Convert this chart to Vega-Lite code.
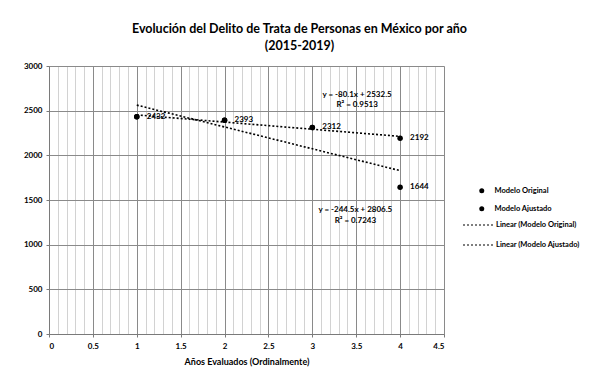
{
  "$schema": "https://vega.github.io/schema/vega-lite/v6.json",
  "width": 395,
  "height": 268,
  "autosize": {"type": "none"},
  "padding": {"left": 49, "top": 66, "right": 151, "bottom": 49},
  "background": "white",
  "config": {
    "font": "Lato",
    "view": {"stroke": null},
    "axis": {
      "labelFont": "Lato",
      "labelFontWeight": "bold",
      "labelFontSize": 8,
      "labelColor": "black",
      "titleFont": "Lato",
      "titleFontWeight": "bold",
      "titleFontSize": 9,
      "titleColor": "black",
      "domainColor": "#7a7a7a",
      "tickColor": "#7a7a7a"
    },
    "legend": {
      "labelFont": "Lato",
      "labelFontWeight": "bold",
      "labelFontSize": 7.5,
      "labelColor": "black",
      "padding": 0,
      "title": null
    }
  },
  "title": {
    "text": ["Evolución del Delito de Trata de Personas en México por año", "(2015-2019)"],
    "font": "Lato",
    "fontSize": 12.5,
    "fontWeight": "bold",
    "color": "black",
    "anchor": "middle",
    "frame": "group",
    "dx": 53,
    "offset": 10,
    "lineHeight": 17
  },
  "data": {
    "values": [
      {"serie": "Modelo Original", "tendencia": "Linear (Modelo Original)", "anio": 1, "delitos": 2432},
      {"serie": "Modelo Original", "tendencia": "Linear (Modelo Original)", "anio": 2, "delitos": 2393},
      {"serie": "Modelo Original", "tendencia": "Linear (Modelo Original)", "anio": 3, "delitos": 2312},
      {"serie": "Modelo Original", "tendencia": "Linear (Modelo Original)", "anio": 4, "delitos": 1644},
      {"serie": "Modelo Ajustado", "tendencia": "Linear (Modelo Ajustado)", "anio": 1, "delitos": 2432},
      {"serie": "Modelo Ajustado", "tendencia": "Linear (Modelo Ajustado)", "anio": 2, "delitos": 2393},
      {"serie": "Modelo Ajustado", "tendencia": "Linear (Modelo Ajustado)", "anio": 3, "delitos": 2312},
      {"serie": "Modelo Ajustado", "tendencia": "Linear (Modelo Ajustado)", "anio": 4, "delitos": 2192}
    ]
  },
  "resolve": {"axis": {"x": "independent"}},
  "layer": [
    {
      "transform": [
        {"regression": "delitos", "on": "anio", "groupby": ["tendencia"], "extent": [1, 4]}
      ],
      "mark": {"type": "line", "color": "black", "strokeWidth": 1.6},
      "encoding": {
        "x": {
          "field": "anio",
          "type": "quantitative",
          "scale": {"domain": [0, 4.5], "nice": false, "zero": false},
          "axis": {
            "orient": "bottom",
            "values": [0, 0.1, 0.2, 0.3, 0.4, 0.5, 0.6, 0.7, 0.8, 0.9, 1, 1.1, 1.2, 1.3, 1.4, 1.5, 1.6, 1.7, 1.8, 1.9, 2, 2.1, 2.2, 2.3, 2.4, 2.5, 2.6, 2.7, 2.8, 2.9, 3, 3.1, 3.2, 3.3, 3.4, 3.5, 3.6, 3.7, 3.8, 3.9, 4, 4.1, 4.2, 4.3, 4.4, 4.5],
            "labels": false,
            "ticks": false,
            "domain": false,
            "title": null,
            "grid": true,
            "gridColor": "#d2d2d2",
            "gridWidth": 1
          }
        },
        "y": {
          "field": "delitos",
          "type": "quantitative",
          "scale": {"domain": [0, 3000], "nice": false},
          "axis": {
            "values": [0, 500, 1000, 1500, 2000, 2500, 3000],
            "format": "d",
            "title": null,
            "grid": true,
            "gridColor": "#8a8a8a",
            "gridWidth": 1,
            "tickSize": 3,
            "labelPadding": 4
          }
        },
        "strokeDash": {
          "field": "tendencia",
          "type": "nominal",
          "scale": {"domain": ["Linear (Modelo Original)", "Linear (Modelo Ajustado)"], "range": [[2, 2], [2, 2]]},
          "legend": {
            "orient": "none",
            "legendX": 413,
            "legendY": 143,
            "symbolType": "stroke",
            "symbolSize": 900,
            "symbolStrokeColor": "black",
            "symbolStrokeWidth": 1.2,
            "labelOffset": 2,
            "rowPadding": -12
          }
        }
      }
    },
    {
      "mark": {"type": "point", "filled": true, "color": "black", "opacity": 1, "size": 30},
      "encoding": {
        "x": {
          "field": "anio",
          "type": "quantitative",
          "axis": {
            "orient": "bottom",
            "values": [0, 0.5, 1, 1.5, 2, 2.5, 3, 3.5, 4, 4.5],
            "format": "~g",
            "title": "Años Evaluados (Ordinalmente)",
            "titlePadding": 7,
            "grid": true,
            "gridColor": "#8a8a8a",
            "gridWidth": 1,
            "tickSize": 3,
            "labelPadding": 5
          }
        },
        "y": {"field": "delitos", "type": "quantitative"},
        "shape": {
          "field": "serie",
          "type": "nominal",
          "scale": {"domain": ["Modelo Original", "Modelo Ajustado"], "range": ["circle", "circle"]},
          "legend": {
            "orient": "none",
            "legendX": 429,
            "legendY": 121,
            "symbolSize": 25,
            "symbolFillColor": "black",
            "symbolStrokeColor": "black",
            "labelOffset": 9,
            "rowPadding": 6
          }
        }
      }
    },
    {
      "transform": [
        {"filter": "datum.serie == 'Modelo Original' || datum.anio == 4"}
      ],
      "mark": {"type": "text", "align": "left", "baseline": "middle", "dx": 10, "fontSize": 8, "fontWeight": "bold", "color": "black"},
      "encoding": {
        "x": {"field": "anio", "type": "quantitative", "axis": null},
        "y": {"field": "delitos", "type": "quantitative"},
        "text": {"field": "delitos", "type": "quantitative", "format": "d"}
      }
    },
    {
      "data": {"values": [{}]},
      "mark": {"type": "text", "align": "center", "baseline": "middle", "fontSize": 8, "fontWeight": "bold", "color": "black", "lineHeight": 10},
      "encoding": {
        "x": {"datum": 3.51, "type": "quantitative", "axis": null},
        "y": {"datum": 2680, "type": "quantitative"},
        "text": {"value": ["y = -80.1x + 2532.5", "R² = 0.9513"]}
      }
    },
    {
      "data": {"values": [{}]},
      "mark": {"type": "text", "align": "center", "baseline": "middle", "fontSize": 8, "fontWeight": "bold", "color": "black", "lineHeight": 11},
      "encoding": {
        "x": {"datum": 3.49, "type": "quantitative", "axis": null},
        "y": {"datum": 1385, "type": "quantitative"},
        "text": {"value": ["y = -244.5x + 2806.5", "R² = 0.7243"]}
      }
    }
  ]
}
